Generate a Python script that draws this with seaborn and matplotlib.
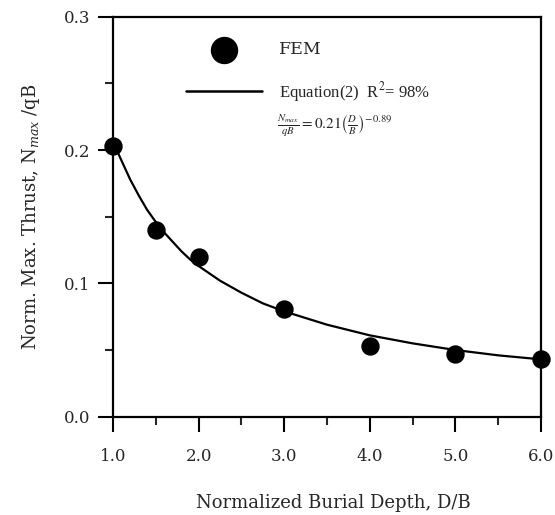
import numpy as np
import seaborn as sns
import matplotlib
import matplotlib.pyplot as plt
from matplotlib.ticker import MultipleLocator

# FEM results
depth = [1.0, 1.5, 2.0, 3.0, 4.0, 5.0, 6.0]
thrust = [0.203, 0.140, 0.120, 0.081, 0.053, 0.047, 0.043]

# Equation (2) curve
eq_depth = [1.0, 1.1, 1.2, 1.3, 1.4, 1.5, 1.6, 1.7, 1.8, 1.9, 2.0,
            2.25, 2.5, 2.75, 3.0, 3.5, 4.0, 4.5, 5.0, 5.5, 6.0]
eq_thrust = [0.206, 0.192, 0.178, 0.166, 0.155, 0.146, 0.138, 0.131, 0.124,
             0.118, 0.113, 0.102, 0.093, 0.085, 0.079, 0.069, 0.061, 0.055,
             0.050, 0.046, 0.043]

x_ticks = [1.0, 2.0, 3.0, 4.0, 5.0, 6.0]
y_ticks = [0.0, 0.1, 0.2, 0.3]


def main():
    matplotlib.use("Agg")
    sns.set_style("ticks")
    plt.rcParams["font.family"] = ["DejaVu Serif"]
    plt.rcParams["mathtext.fontset"] = "dejavuserif"

    fig = plt.figure(figsize=(5.55, 5.15), dpi=100)
    ax = fig.add_axes([0.2036, 0.1909, 0.7712, 0.7767])

    sns.lineplot(x=eq_depth, y=eq_thrust, ax=ax, color="black", lw=1.6)
    sns.scatterplot(x=depth, y=thrust, ax=ax, color="black", s=150,
                    edgecolor="black", zorder=3, clip_on=False)

    ax.set_xlim(1.0, 6.0)
    ax.set_ylim(0.0, 0.3)
    ax.set_xticks(x_ticks)
    ax.set_yticks(y_ticks)
    ax.set_xticklabels([f"{v:.1f}" for v in x_ticks])
    ax.set_yticklabels([f"{v:.1f}" for v in y_ticks])
    ax.xaxis.set_minor_locator(MultipleLocator(0.5))
    ax.yaxis.set_minor_locator(MultipleLocator(0.05))
    ax.tick_params(which="major", direction="out", length=10.5, width=1.5,
                   labelsize=12, color="black")
    ax.tick_params(axis="x", which="major", pad=12)
    ax.tick_params(axis="y", which="major", pad=6)
    ax.tick_params(which="minor", direction="out", length=6, width=1.5)
    for s in ax.spines.values():
        s.set_linewidth(1.6)
        s.set_color("black")

    ax.set_xlabel("Normalized Burial Depth, D/B", fontsize=13)
    ax.set_ylabel(r"Norm. Max. Thrust, N$_{max}$ /qB", fontsize=13)
    ax.xaxis.set_label_coords(0.516, -0.193)
    ax.yaxis.set_label_coords(-0.165, 0.5)

    # legend drawn by hand, like the original
    ax.scatter([0.26], [0.917], s=350, color="black", transform=ax.transAxes,
               clip_on=False)
    ax.text(0.388, 0.917, "FEM", transform=ax.transAxes, fontsize=12.5,
            va="center")
    ax.plot([0.17, 0.349], [0.815, 0.815], color="black", lw=1.8,
            transform=ax.transAxes)
    ax.text(0.388, 0.812, r"Equation(2)  R$^2$= 98%", transform=ax.transAxes,
            fontsize=12, va="center", family="Liberation Serif",
            math_fontfamily="stix")
    ax.text(0.384, 0.726,
            r"$\frac{N_{max}}{qB} = 0.21\left(\frac{D}{B}\right)^{-0.89}$",
            transform=ax.transAxes, fontsize=11, va="center",
            math_fontfamily="stix")

    plt.savefig("out.png", dpi=100)


if __name__ == "__main__":
    main()
